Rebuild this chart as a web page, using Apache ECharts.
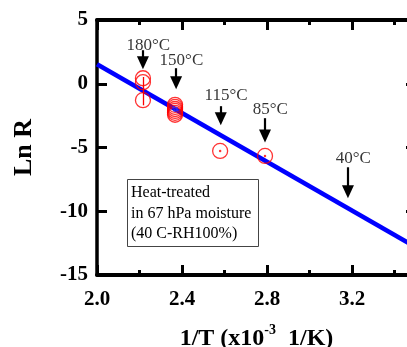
<!DOCTYPE html>
<html>
<head>
<meta charset="utf-8">
<script src="https://cdn.jsdelivr.net/npm/echarts@6/dist/echarts.min.js"></script>
<style>
html,body{margin:0;padding:0;background:#fff;}
#c{width:407px;height:347px;}
</style>
</head>
<body>
<div id="c"></div>
<script>
// ---- data ----
var xTicks = [2.0, 2.4, 2.8, 3.2];
var yTicks = [-15, -10, -5, 0, 5];
// measured points: [1/T (x10^-3 1/K), Ln R]
var pts180 = [[2.216, 0.43], [2.216, 0.12], [2.216, -1.29]];
var pts150 = [[2.367, -1.65], [2.367, -1.82], [2.367, -1.98], [2.367, -2.13], [2.367, -2.28], [2.367, -2.43]];
var pts115 = [[2.579, -5.27]];
var pts85 = [[2.79, -5.66]];
var blue150 = [[2.36, -1.85], [2.374, -1.9], [2.364, -2.1], [2.377, -2.08]];
var errBar180 = [[2.216, 0.53], [2.216, -1.69]];
// fitted line
var fitX = [2.0, 3.5];
var fitY = [1.53, -12.82];
// temperature annotations: label, x, arrow start y, arrow end y, label y
var annLabels = ['180°C', '150°C', '115°C', '85°C', '40°C'];
var annX = [2.216, 2.372, 2.582, 2.79, 3.18];
var annY0 = [2.63, 1.22, -1.76, -2.70, -6.55];
var annY1 = [1.14, -0.43, -3.25, -4.59, -8.98];
var annTextY = [3.0, 1.84, -0.90, -2.0, -5.84];
var boxLines = ['Heat-treated', 'in 67 hPa moisture', '(40 C-RH100%)'];

var serif = '"Liberation Serif","Times New Roman",serif';
var chart = echarts.init(document.getElementById('c'), null, {renderer: 'canvas'});

var allPts = pts180.concat(pts150, pts115, pts85);
var arrowLines = annX.map(function (x, i) {
  return [{coord: [x, annY0[i]]}, {coord: [x, annY1[i] + 0.5]}];
});
var annData = annX.map(function (x, i) { return [x + 0.025, annTextY[i], annLabels[i]]; });

function xAxisCfg(pos) {
  return {
    type: 'value', position: pos, min: 2.0, max: 3.5, interval: 0.4,
    axisLine: {show: true, onZero: false, lineStyle: {color: '#000', width: 4}},
    axisTick: {show: true, inside: true, length: 10, lineStyle: {color: '#000', width: 3}},
    minorTick: {show: true, splitNumber: 2, length: 5, lineStyle: {color: '#000', width: 3}},
    splitLine: {show: false}, minorSplitLine: {show: false},
    axisLabel: pos === 'bottom' ? {
      show: true, margin: 14, color: '#000', fontFamily: serif, fontWeight: 'bold', fontSize: 21,
      formatter: function (v) { return v > 3.3 ? '' : v.toFixed(1); }
    } : {show: false}
  };
}
function yAxisCfg(pos) {
  return {
    type: 'value', position: pos, min: -15, max: 5, interval: 5,
    axisLine: {show: true, onZero: false, lineStyle: {color: '#000', width: 3.5}},
    axisTick: {show: true, inside: true, length: 10, lineStyle: {color: '#000', width: 3}},
    splitLine: {show: false},
    axisLabel: pos === 'left' ? {
      show: true, margin: 9, color: '#000', fontFamily: serif, fontWeight: 'bold', fontSize: 21
    } : {show: false}
  };
}

var xb = xAxisCfg('bottom');
xb.name = '{b|1/T (x10}{s|-3}{b|  1/K)}';
xb.nameLocation = 'middle';
xb.nameGap = 48;
xb.nameTextStyle = {
  rich: {
    b: {fontFamily: serif, fontWeight: 'bold', fontSize: 24, color: '#000', lineHeight: 28, verticalAlign: 'bottom'},
    s: {fontFamily: serif, fontWeight: 'bold', fontSize: 14, color: '#000', lineHeight: 28, verticalAlign: 'top', padding: [0, 0, 10, 0]}
  }
};
var yl = yAxisCfg('left');
yl.name = 'Ln R';
yl.nameLocation = 'middle';
yl.nameGap = 60;
yl.nameTextStyle = {fontFamily: serif, fontWeight: 'bold', fontSize: 26, color: '#000'};

var option = {
  animation: false,
  backgroundColor: '#fff',
  grid: {left: 97, top: 20, width: 319, height: 255, containLabel: false, outerBoundsMode: 'none'},
  xAxis: [xb, xAxisCfg('top')],
  yAxis: [yl, yAxisCfg('right')],
  series: [
    {
      type: 'line', xAxisIndex: 0, yAxisIndex: 0,
      data: fitX.map(function (x, i) { return [x, fitY[i]]; }),
      symbol: 'none', lineStyle: {color: '#0000ff', width: 4.5}, z: 3
    },
    {
      type: 'scatter', xAxisIndex: 0, yAxisIndex: 0,
      data: allPts, symbol: 'circle', symbolSize: 15,
      itemStyle: {color: 'rgba(0,0,0,0)', borderColor: '#ff0000', borderWidth: 1.3}, z: 4,
      markLine: {
        silent: true, symbol: ['none', 'none'], animation: false,
        lineStyle: {color: '#ff0000', width: 1.3, type: 'solid'}, label: {show: false},
        data: [[{coord: errBar180[0]}, {coord: errBar180[1]}]]
      }
    },
    {
      type: 'scatter', xAxisIndex: 0, yAxisIndex: 0,
      data: pts115.concat(pts85), symbol: 'circle', symbolSize: 2.5,
      itemStyle: {color: '#ff0000'}, z: 5
    },
    {
      type: 'scatter', xAxisIndex: 0, yAxisIndex: 0,
      data: blue150, symbol: 'circle', symbolSize: 2.5,
      itemStyle: {color: '#3030ff'}, z: 5
    },
    {
      type: 'scatter', xAxisIndex: 0, yAxisIndex: 0,
      data: annData, symbolSize: 0,
      label: {
        show: true, position: 'inside', color: '#000', fontFamily: serif, fontSize: 17,
        formatter: function (p) { return p.data[2]; }
      },
      markLine: {
        silent: true, symbol: ['none', 'triangle'], symbolSize: [12, 13], animation: false,
        lineStyle: {color: '#000', width: 2.2, type: 'solid'}, itemStyle: {color: '#000'},
        label: {show: false},
        data: arrowLines
      },
      z: 6
    }
  ],
  graphic: [
    {
      type: 'rect', left: 127, top: 179, z: 10,
      shape: {width: 131, height: 67},
      style: {fill: '#fff', stroke: '#444', lineWidth: 1}
    },
    {
      type: 'text', left: 131, top: 183, z: 11,
      style: {text: boxLines.join('\n'), font: '16px ' + serif, fill: '#000', lineHeight: 20.5}
    }
  ]
};
chart.setOption(option);
</script>
</body>
</html>
